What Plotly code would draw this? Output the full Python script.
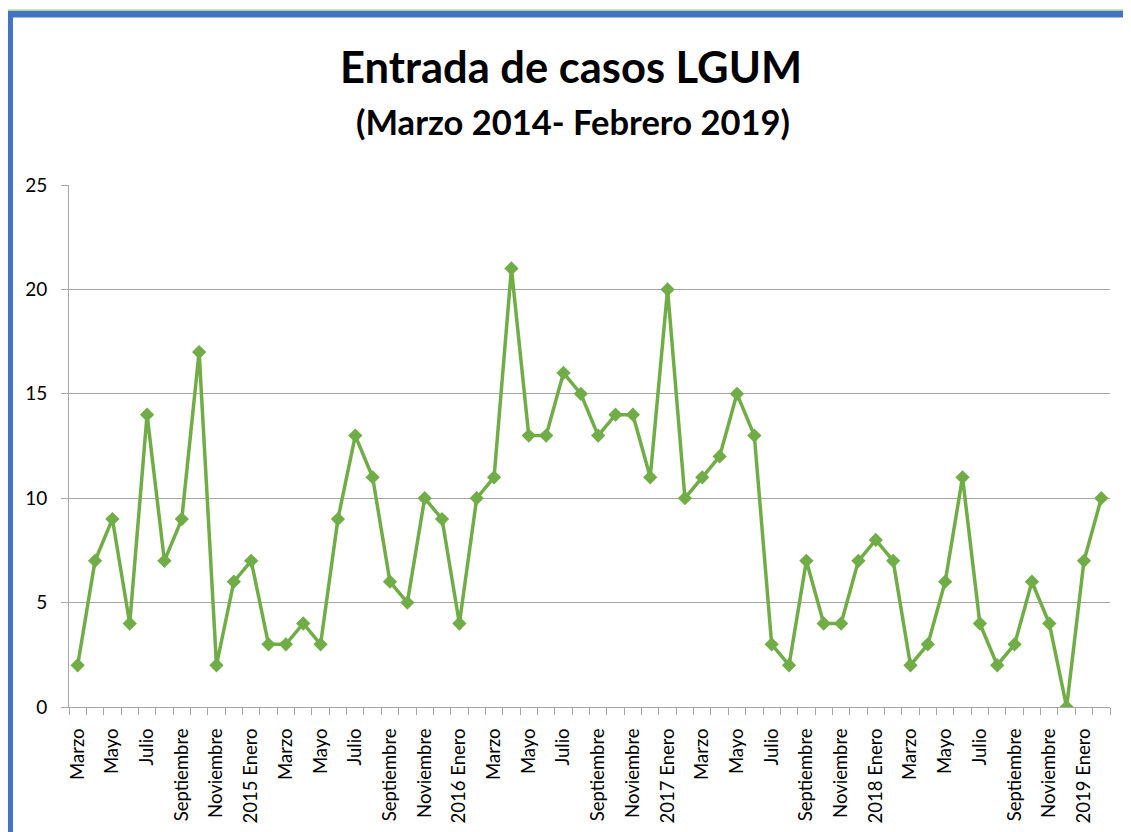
import plotly.graph_objects as go

# ---- data ----
months = ["Marzo", "Abril", "Mayo", "Junio", "Julio", "Agosto", "Septiembre", "Octubre",
          "Noviembre", "Diciembre", "Enero", "Febrero"]
cases = [2, 7, 9, 4, 14, 7, 9, 17, 2, 6,
         7, 3, 3, 4, 3, 9, 13, 11, 6, 5, 10, 9,
         4, 10, 11, 21, 13, 13, 16, 15, 13, 14, 14, 11,
         20, 10, 11, 12, 15, 13, 3, 2, 7, 4, 4, 7,
         8, 7, 2, 3, 6, 11, 4, 2, 3, 6, 4, 0,
         7, 10]
y_ticks = [0, 5, 10, 15, 20, 25]
title_text = "Entrada de casos LGUM"
subtitle_text = "(Marzo 2014- Febrero 2019)"

# build category labels: Mar 2014 .. Feb 2019
labels = []
yr = 2014
mi = 0
for i in range(len(cases)):
    name = months[mi]
    if name == "Enero":
        yr += 1
        name = f"{yr} Enero"
    labels.append(name)
    mi = (mi + 1) % 12

x = list(range(len(cases)))
tickvals = x[::2]
ticktext = labels[::2]

OFF = 8  # page body margin
W, H = 1131 - OFF, 832 - OFF
PL, PR, PT, PB = 69, 1110, 185, 707  # plot area in page pixels
L, T = PL - OFF, PT - OFF
R, B = OFF + W - PR, OFF + H - PB
PW, PH = PR - PL, PB - PT


def px_x(p):
    return (p - PL) / PW


def px_y(p):
    return (PB - p) / PH


fig = go.Figure()
fig.add_trace(go.Scatter(
    x=x, y=cases, mode="lines+markers",
    line=dict(color="#70AD47", width=3.5),
    marker=dict(symbol="diamond", size=11, color="#70AD47"),
    hoverinfo="y",
))

font = "Lato, Calibri, 'Noto Sans', sans-serif"

fig.update_layout(
    width=W, height=H,
    margin=dict(l=L, r=R, t=T, b=B),
    paper_bgcolor="white", plot_bgcolor="white",
    showlegend=False,
    font=dict(family=font, color="black"),
    xaxis=dict(
        range=[-0.5, len(cases) - 0.5],
        tickvals=tickvals, ticktext=ticktext, tickangle=-90,
        ticks="", showgrid=False, zeroline=False, automargin=False,
        showline=True, linecolor="#A6A6A6", linewidth=1,
        tickfont=dict(size=18.5, family=font, color="black"),
        minor=dict(ticks="outside", tick0=-0.5, dtick=1, ticklen=7,
                   tickcolor="#A6A6A6", showgrid=False),
        ticklabelstandoff=13,
    ),
    yaxis=dict(
        range=[0, 25], tickvals=y_ticks, automargin=False,
        showgrid=True, gridcolor="#A6A6A6", gridwidth=1,
        zeroline=False, showline=True, linecolor="#A6A6A6", linewidth=1,
        ticks="outside", ticklen=7, tickcolor="#A6A6A6",
        tickfont=dict(size=19, family=font, color="black"),
        ticklabelstandoff=10,
    ),
)

fig.add_annotation(text=f"<b>{title_text}</b>", xref="paper", yref="paper",
                   x=px_x(571), y=px_y(66), xanchor="center", yanchor="middle",
                   showarrow=False, font=dict(size=43.5, family=font, color="black"))
fig.add_annotation(text=f"<b>{subtitle_text}</b>", xref="paper", yref="paper",
                   x=px_x(573), y=px_y(121), xanchor="center", yanchor="middle",
                   showarrow=False, font=dict(size=34.5, family=font, color="black"))

# frame border (green thin line + blue band)
shapes = [
    dict(x0=px_x(5.5), x1=px_x(1140), y0=px_y(9.5), y1=px_y(11), fillcolor="#A9D18E"),
    dict(x0=px_x(5.5), x1=px_x(7), y0=px_y(9.5), y1=px_y(840), fillcolor="#A9D18E"),
    dict(x0=px_x(7), x1=px_x(1140), y0=px_y(11), y1=px_y(17.5), fillcolor="#4472C4"),
    dict(x0=px_x(7), x1=px_x(13), y0=px_y(11), y1=px_y(840), fillcolor="#4472C4"),
]
for s in shapes:
    fig.add_shape(type="rect", xref="paper", yref="paper", line=dict(width=0),
                  layer="above", **s)

fig.write_html("out.html")
